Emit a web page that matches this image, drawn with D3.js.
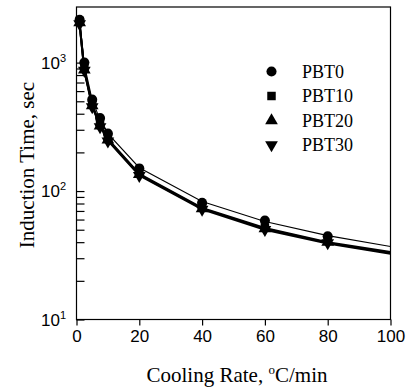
<!DOCTYPE html>
<html><head><meta charset="utf-8">
<script src="https://cdn.jsdelivr.net/npm/d3@7"></script>
<style>body{margin:0;background:#fff}svg{display:block}</style>
</head><body>
<script>
// Data
const rates = [1, 2.5, 5, 7.5, 10, 20, 40, 60, 80];
const pbt0  = [2150, 1000, 515, 370, 280, 150, 81, 59, 44.5];
const pbt10 = [2100, 900, 475, 330, 258, 138, 75, 52, 41];
const pbt20 = [2050, 880, 462, 322, 250, 135, 73, 51, 40];
const pbt30 = [2000, 870, 452, 316, 245, 132, 72, 50, 39.5];
const fitRates = [1, 2.5, 5, 7.5, 10, 20, 40, 60, 80, 100];
const fit0  = [2150, 960, 510, 360, 280, 152, 83, 58, 45, 37];
const fit10 = [2000, 880, 470, 330, 255, 136, 74, 51.5, 40, 33.5];
const fit20 = [1980, 870, 462, 325, 250, 134, 73, 51, 39.5, 33];
const fit30 = [1960, 860, 455, 320, 247, 132, 72, 50, 39, 32.5];
const seriesNames = ["PBT0", "PBT10", "PBT20", "PBT30"];
const xTicks = [0, 20, 40, 60, 80, 100];
const yMajor = [10, 100, 1000];
const yExp = ["1", "2", "3"];
const yMinor = [20,30,40,50,60,70,80,90,200,300,400,500,600,700,800,900,2000];

const W = 410, H = 389;
const svg = d3.select("body").append("svg").attr("width", W).attr("height", H);
const x = d3.scaleLinear().domain([0, 100]).range([76.5, 390.5]);
const y = d3.scaleLog().domain([10, 2710]).range([319.5, 7]);

const serif = "'Liberation Serif','Times New Roman',serif";
const sans = "'Liberation Sans',Arial,sans-serif";

// frame
svg.append("rect").attr("x", x(0)).attr("y", y(2710)).attr("width", x(100)-x(0)).attr("height", y(10)-y(2710))
  .attr("fill", "none").attr("stroke", "#000").attr("stroke-width", 1.2);

// x axis
const xa = svg.append("g").attr("transform", `translate(0,${y(10)})`)
  .call(d3.axisBottom(x).tickValues(xTicks).tickSize(6).tickSizeOuter(0).tickPadding(4));
xa.select(".domain").remove();
xa.selectAll("line").attr("stroke-width", 1.2);
xa.selectAll("text").attr("font-family", sans).attr("font-size", 17).attr("fill", "#000");

// y axis ticks (inward)
const ya = svg.append("g").attr("transform", `translate(${x(0)},0)`)
  .call(d3.axisLeft(y).tickValues(yMajor.concat(yMinor)).tickSize(-8).tickFormat(""));
ya.select(".domain").remove();
ya.selectAll("line").attr("stroke-width", 1.2);

// y tick labels with superscript
yMajor.forEach((v, i) => {
  const t = svg.append("text").attr("x", 66).attr("y", y(v) + 6)
    .attr("text-anchor", "end").attr("font-family", sans).attr("font-size", 17);
  t.append("tspan").text("10");
  t.append("tspan").attr("dy", -7).attr("font-size", 11).text(yExp[i]);
});

// fit lines
const line = d3.line().x((d, i) => x(fitRates[i])).y(d => y(d));
[fit10, fit20, fit30].forEach(f => {
  svg.append("path").attr("d", line(f)).attr("fill", "none").attr("stroke", "#000").attr("stroke-width", 2);
});
svg.append("path").attr("d", line(fit0)).attr("fill", "none").attr("stroke", "#000").attr("stroke-width", 1.1);

// markers
const symbols = [d3.symbolCircle, d3.symbolSquare, d3.symbolTriangle, null];
const sizes = [80, 72, 70, 70];
function drawMarker(g, k, cx, cy) {
  if (k === 3) {
    g.append("path").attr("d", d3.symbol(d3.symbolTriangle, sizes[k])())
      .attr("transform", `translate(${cx},${cy}) rotate(180)`).attr("fill", "#000");
  } else {
    g.append("path").attr("d", d3.symbol(symbols[k], sizes[k])())
      .attr("transform", `translate(${cx},${cy})`).attr("fill", "#000");
  }
}
const data = [pbt0, pbt10, pbt20, pbt30];
const mg = svg.append("g");
[3, 2, 1, 0].forEach(k => {
  data[k].forEach((v, i) => drawMarker(mg, k, x(rates[i]), y(v)));
});

// legend
const legY = [71.5, 96, 120.5, 145];
seriesNames.forEach((n, k) => {
  drawMarker(svg, k, 271.5, legY[k]);
  svg.append("text").attr("x", 302).attr("y", legY[k] + 6)
    .attr("font-family", serif).attr("font-size", 18).text(n);
});

// axis titles
const xt = svg.append("text").attr("x", 237).attr("y", 382).attr("text-anchor", "middle")
  .attr("font-family", serif).attr("font-size", 21);
xt.append("tspan").text("Cooling Rate, ");
xt.append("tspan").attr("dy", -8).attr("font-size", 13).text("o");
xt.append("tspan").attr("dy", 8).text("C/min");

svg.append("text").attr("transform", `translate(34,165) rotate(-90)`).attr("text-anchor", "middle")
  .attr("font-family", serif).attr("font-size", 21).text("Induction Time, sec");
</script>
</body></html>
